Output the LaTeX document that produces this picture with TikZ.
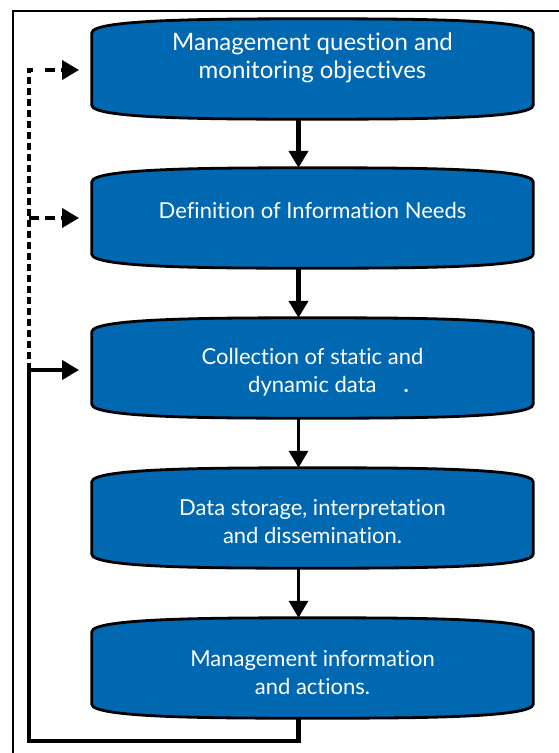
\documentclass[tikz,border=0pt]{standalone}
\usepackage{fontspec}
\setmainfont{Lato}[Ligatures=NoCommon]
\usetikzlibrary{arrows.meta,backgrounds,calc}
\definecolor{boxblue}{RGB}{0,103,177}
\tikzset{
  x=1pt,y=-1pt,
  boxnode/.style={minimum width=441pt,minimum height=100pt,inner sep=0pt,draw=none},
  boxtext/.style={text=white,align=center,font=\fontsize{22}{28}\selectfont,inner sep=0pt},
  blobstyle/.style={fill=boxblue,draw=black,line width=2.8pt},
  thickarrow/.style={line width=4.2pt,-{Triangle[width=19pt,length=17pt]}},
  thinarrow/.style={line width=3.1pt,-{Triangle[width=19pt,length=17pt]}},
  loopline/.style={line width=4.5pt},
  dashline/.style={line width=3.8pt,dash pattern=on 7pt off 4pt},
  dasharrow/.style={line width=3.8pt,dash pattern=on 10pt off 6pt,-{Triangle[width=19pt,length=17pt]}},
  frameline/.style={line width=2pt}
}
\newcommand\blobshape[1]{%
  \path[blobstyle] ([yshift=-14pt]#1.north west)
    .. controls (#1.north west) and ([xshift=130pt]#1.north west) .. (#1.north)
    .. controls ([xshift=-130pt]#1.north east) and (#1.north east) .. ([yshift=-14pt]#1.north east)
    -- ([yshift=14pt]#1.south east)
    .. controls (#1.south east) and ([xshift=-130pt]#1.south east) .. (#1.south)
    .. controls ([xshift=130pt]#1.south west) and (#1.south west) .. ([yshift=14pt]#1.south west)
    -- cycle;}
\begin{document}
\begin{tikzpicture}
\useasboundingbox (0,0) rectangle (559,753);
% outer frame
\coordinate (fbl) at (12.5,760);
\coordinate (ftl) at (12.5,11);
\coordinate (ftr) at (565,11);
\draw[frameline] (fbl) -- (ftl) -- (ftr);
% boxes
\node[boxnode] (b1) at (312.5,69) {};
\node[boxnode] (b2) at (312.5,218) {};
\node[boxnode] (b3) at (312.5,368) {};
\node[boxnode] (b4) at (312.5,518) {};
\node[boxnode] (b5) at (312.5,668) {};
\begin{scope}[on background layer]
\blobshape{b1}\blobshape{b2}\blobshape{b3}\blobshape{b4}\blobshape{b5}
\end{scope}
\node[boxtext,font=\fontsize{24}{28}\selectfont] (t1) at (312.5,58) {Management question and\\monitoring objectives};
\node[boxtext] (t2) at (312.5,210) {Definition of Information Needs};
\node[boxtext] (t3) at (312.5,372) {Collection of static and\\\hspace*{32pt}dynamic data\hspace{27pt}\textbf{.}};
\node[boxtext] (t4) at (312.5,522) {Data storage, interpretation\\and dissemination.};
\node[boxtext] (t5) at (312.5,673) {Management information\\and actions.};
% down arrows
\draw[thickarrow] ([xshift=-14pt]b1.south) -- ([xshift=-14pt]b2.north);
\draw[thickarrow] ([xshift=-14pt]b2.south) -- ([xshift=-14pt]b3.north);
\draw[thinarrow] ([xshift=-14pt]b3.south) -- ([xshift=-14pt]b4.north);
\draw[thinarrow] ([xshift=-14pt]b4.south) -- ([xshift=-14pt]b5.north);
% feedback loop
\coordinate (ll) at (29,741);
\coordinate (lm) at (29,370);
\coordinate (a3) at (79,370);
\coordinate (lt) at (29,70);
\coordinate (lc) at (36,70);
\coordinate (d1) at (45,70);
\coordinate (l2) at (29,218);
\coordinate (a1) at (79,70);
\coordinate (a2) at (79,218);
\draw[loopline] ([xshift=-14pt]b5.south) |- (ll) -- (lm);
\draw[thickarrow] (lm) -- (a3);
\draw[dashline] (lm) -- (lt) -- (lc);
\draw[dasharrow] (d1) -- (a1);
\draw[dasharrow] (l2) -- (a2);
\end{tikzpicture}
\end{document}
